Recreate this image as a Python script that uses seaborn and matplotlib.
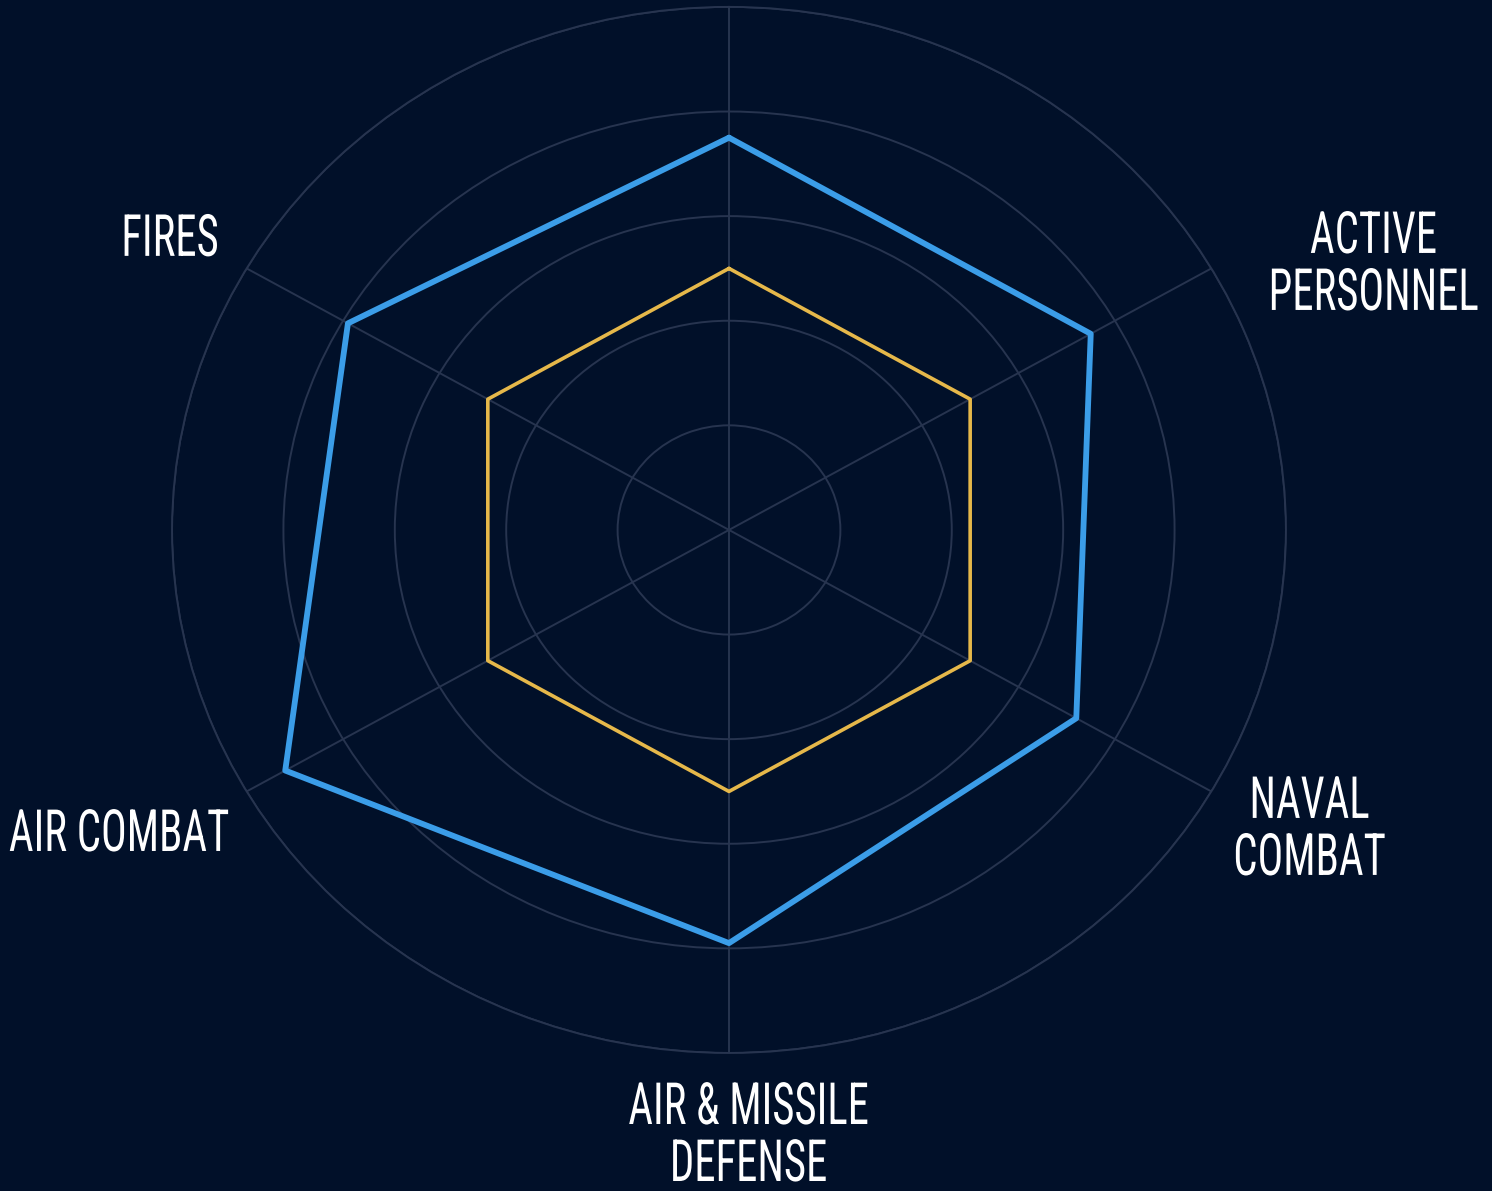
import numpy as np
import pandas as pd
import seaborn as sns
import matplotlib
matplotlib.use("Agg")
import matplotlib.pyplot as plt
from matplotlib import font_manager
from matplotlib.patheffects import AbstractPathEffect
from matplotlib.transforms import Affine2D

# ---------------- data ----------------
categories = ["", "ACTIVE\nPERSONNEL", "NAVAL\nCOMBAT", "AIR & MISSILE\nDEFENSE", "AIR COMBAT", "FIRES"]
series_names = ["Blue", "Gold"]
blue_values = [75, 75, 72, 79, 92, 79]
gold_values = [50, 50, 50, 50, 50, 50]
ring_ticks = [20, 40, 60, 80, 100]

# ---------------- style ----------------
BG = "#011029"
GRID = "#27344f"
BLUE = "#3b9de8"
GOLD = "#e6b84a"

sns.set_theme(style="white")
available = {f.name for f in font_manager.fontManager.ttflist}
font_choice = None
for cand in ["Liberation Sans Narrow", "Roboto Condensed", "DejaVu Sans Condensed", "Open Sans", "Roboto", "DejaVu Sans"]:
    if cand in available:
        font_choice = cand
        break
plt.rcParams["font.family"] = [font_choice, "DejaVu Sans"]


class VStretch(AbstractPathEffect):
    """Stretch glyphs vertically about the baseline (tall, condensed look)."""
    def __init__(self, sy):
        super().__init__()
        self.sy = sy

    def draw_path(self, renderer, gc, tpath, affine, rgbFace=None):
        t = Affine2D().scale(1, self.sy) + affine
        renderer.draw_path(gc, tpath, t, rgbFace)


fig = plt.figure(figsize=(14.92, 11.91), dpi=100, facecolor=BG)
ax = fig.add_axes([0.1153, 0.1159, 0.7466, 0.8783], projection="polar")
ax.set_aspect("auto")
ax.set_facecolor(BG)
ax.set_theta_zero_location("N")
ax.set_theta_direction(-1)

n = len(categories)
angles = np.linspace(0, 2 * np.pi, n, endpoint=False)

rows = []
for name, vals in zip(series_names, [blue_values, gold_values]):
    for i in range(n + 1):
        rows.append({"series": name, "theta": angles[i % n] if i < n else 2 * np.pi,
                     "value": vals[i % n]})
df = pd.DataFrame(rows)

sns.lineplot(data=df[df.series == "Gold"], x="theta", y="value", sort=False,
             color=GOLD, linewidth=2.6, ax=ax, legend=False, estimator=None)
sns.lineplot(data=df[df.series == "Blue"], x="theta", y="value", sort=False,
             color=BLUE, linewidth=4.2, ax=ax, legend=False, estimator=None)

ax.set_ylim(0, 100)
ax.set_yticks(ring_ticks)
ax.set_yticklabels([])
ax.set_xticks(angles)
ax.set_xticklabels([])
ax.set_xlabel("")
ax.set_ylabel("")
ax.grid(True, color=GRID, linewidth=1.4)
ax.spines["polar"].set_color(GRID)
ax.spines["polar"].set_linewidth(1.4)
ax.tick_params(length=0)

# category labels (last-line baseline positions in axes fraction)
label_pos = [None, (1.0786, 0.7103), (1.0211, 0.1702), (0.5175, -0.1224), (-0.0476, 0.1931), (-0.0018, 0.7620)]
for lab, pos in zip(categories, label_pos):
    if not lab or pos is None:
        continue
    ax.text(pos[0], pos[1], lab, transform=ax.transAxes, ha="center", va="baseline",
            multialignment="center", color="white", fontsize=30.8, linespacing=1.50,
            path_effects=[VStretch(1.36)], clip_on=False)

fig.savefig("out.png", dpi=100, facecolor=BG)
